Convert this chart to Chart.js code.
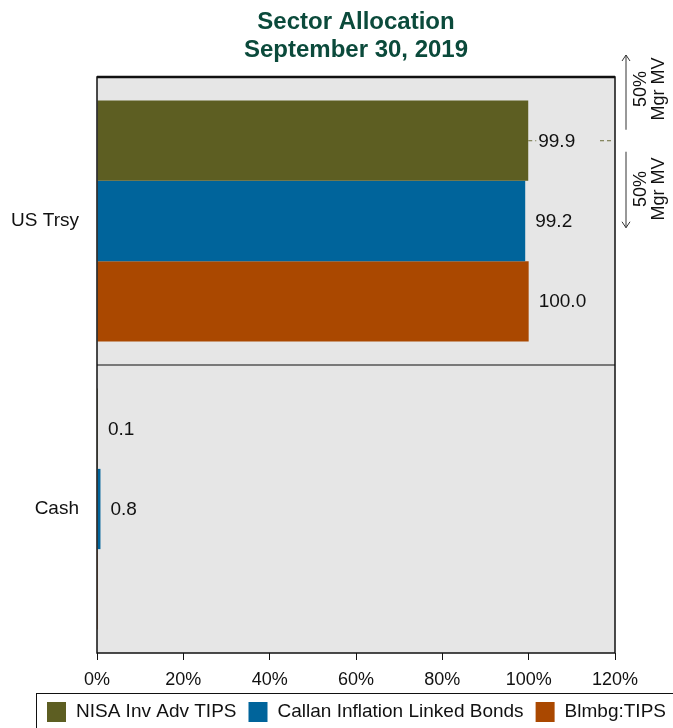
<!DOCTYPE html>
<html>
<head>
<meta charset="utf-8">
<script src="https://cdn.jsdelivr.net/npm/chart.js@4/dist/chart.umd.min.js"></script>
<style>
  html, body { margin: 0; padding: 0; background: #fff; }
  #wrap { width: 673px; height: 728px; position: relative; }
</style>
</head>
<body>
<div id="wrap"><canvas id="sectorChart"></canvas></div>
<script>
// data
const categories = ["US Trsy", "Cash"];
const seriesNames = ["NISA Inv Adv TIPS", "Callan Inflation Linked Bonds", "Blmbg:TIPS"];
const nisaValues = [99.9, 0.1];
const callanValues = [99.2, 0.8];
const blmbgValues = [100.0, 0];
const xTicks = [0, 20, 40, 60, 80, 100, 120];
const titleLines = ["Sector Allocation", "September 30, 2019"];

const colors = ["#5d5e22", "#00649b", "#aa4800"];
const FONT = "'Liberation Sans', Arial, sans-serif";

// background, borders, labels, side notes, legend
const decorPlugin = {
    id: "decor",
    beforeDatasetsDraw(chart) {
        const { ctx, chartArea: a } = chart;
        ctx.save();
        ctx.fillStyle = "#e6e6e6";
        ctx.fillRect(a.left, a.top, a.right - a.left, a.bottom - a.top);
        // divider between categories
        const mid = (chart.scales.y.getPixelForValue(0) + chart.scales.y.getPixelForValue(1)) / 2;
        ctx.strokeStyle = "#555";
        ctx.lineWidth = 1.5;
        ctx.beginPath();
        ctx.moveTo(a.left, mid);
        ctx.lineTo(a.right, mid);
        ctx.stroke();
        ctx.restore();
    },
    afterDatasetsDraw(chart) {
        const { ctx, chartArea: a } = chart;
        ctx.save();

        // plot frame
        ctx.strokeStyle = "#111";
        ctx.lineWidth = 1.5;
        ctx.strokeRect(a.left, a.top, a.right - a.left, a.bottom - a.top);
        ctx.lineWidth = 2.5;
        ctx.beginPath();
        ctx.moveTo(a.left, a.top);
        ctx.lineTo(a.right, a.top);
        ctx.stroke();

        // value labels
        ctx.font = "19px " + FONT;
        ctx.fillStyle = "#111";
        ctx.textAlign = "left";
        ctx.textBaseline = "middle";
        chart.data.datasets.forEach((ds, i) => {
            const meta = chart.getDatasetMeta(i);
            meta.data.forEach((bar, j) => {
                const v = ds.data[j];
                if (!v) return;
                ctx.fillText(v.toFixed(1), bar.x + 10, bar.y + 1);
            });
        });

        // leader dashes from the first bar towards the side note
        const first = chart.getDatasetMeta(0).data[0];
        ctx.strokeStyle = "#6b6c3a";
        ctx.lineWidth = 1;
        ctx.setLineDash([4, 3]);
        ctx.beginPath();
        ctx.moveTo(first.x, first.y);
        ctx.lineTo(first.x + 8, first.y);
        ctx.moveTo(a.right - 15, first.y);
        ctx.lineTo(a.right - 1, first.y);
        ctx.stroke();
        ctx.setLineDash([]);

        // side notes "50% Mgr MV"
        const ax = a.right + 11;
        ctx.strokeStyle = "#333";
        ctx.lineWidth = 1;
        ctx.beginPath();
        ctx.moveTo(ax, first.y - 11);
        ctx.lineTo(ax, a.top - 22);
        ctx.moveTo(ax - 4, a.top - 16);
        ctx.lineTo(ax, a.top - 22);
        ctx.lineTo(ax + 4, a.top - 16);
        ctx.moveTo(ax, first.y + 11);
        ctx.lineTo(ax, first.y + 87);
        ctx.moveTo(ax - 4, first.y + 81);
        ctx.lineTo(ax, first.y + 87);
        ctx.lineTo(ax + 4, first.y + 81);
        ctx.stroke();

        ctx.fillStyle = "#111";
        ctx.font = "18px " + FONT;
        ctx.textAlign = "center";
        [89, 189].forEach(cy => {
            ctx.save();
            ctx.translate(ax + 15, cy);
            ctx.rotate(-Math.PI / 2);
            ctx.fillText("50%", 0, 0);
            ctx.fillText("Mgr MV", 0, 18);
            ctx.restore();
        });

        // title
        ctx.fillStyle = "#0b4a3b";
        ctx.font = "bold 24px " + FONT;
        ctx.textAlign = "center";
        ctx.textBaseline = "alphabetic";
        const cx = (a.left + a.right) / 2;
        ctx.fillText(titleLines[0], cx, 29);
        ctx.fillText(titleLines[1], cx, 57);

        // legend
        ctx.strokeStyle = "#111";
        ctx.lineWidth = 1;
        ctx.strokeRect(36.5, 693.5, 700, 60);
        ctx.font = "19px " + FONT;
        ctx.textAlign = "left";
        ctx.textBaseline = "middle";
        let lx = 47;
        seriesNames.forEach((name, i) => {
            ctx.fillStyle = colors[i];
            ctx.fillRect(lx, 702, 19, 20);
            ctx.fillStyle = "#111";
            ctx.fillText(name, lx + 29, 712);
            lx += 29 + ctx.measureText(name).width + 12;
        });

        ctx.restore();
    }
};

const ctx = document.getElementById("sectorChart").getContext("2d");

new Chart(ctx, {
    type: "bar",
    data: {
        labels: categories,
        datasets: [
            { label: seriesNames[0], data: nisaValues, backgroundColor: colors[0] },
            { label: seriesNames[1], data: callanValues, backgroundColor: colors[1] },
            { label: seriesNames[2], data: blmbgValues, backgroundColor: colors[2] }
        ]
    },
    options: {
        indexAxis: "y",
        responsive: true,
        maintainAspectRatio: false,
        animation: false,
        layout: { padding: { top: 77, right: 58, bottom: 40, left: 0 } },
        datasets: { bar: { barPercentage: 1, categoryPercentage: 0.836, minBarLength: 1 } },
        plugins: {
            legend: { display: false },
            title: { display: false },
            tooltip: { enabled: false }
        },
        scales: {
            x: {
                min: 0,
                max: 120,
                afterBuildTicks: scale => { scale.ticks = xTicks.map(v => ({ value: v })); },
                afterFit: scale => { scale.height = 35; },
                border: { display: false },
                grid: { drawOnChartArea: false, drawTicks: true, tickLength: 7, color: "#111" },
                ticks: {
                    padding: 9,
                    color: "#111",
                    font: { family: FONT, size: 18 },
                    callback: v => v + "%"
                }
            },
            y: {
                afterFit: scale => { scale.width = 97; },
                border: { display: false },
                grid: { display: false },
                ticks: {
                    padding: 10,
                    color: "#111",
                    font: { family: FONT, size: 19 }
                }
            }
        }
    },
    plugins: [decorPlugin]
});
</script>
</body>
</html>
